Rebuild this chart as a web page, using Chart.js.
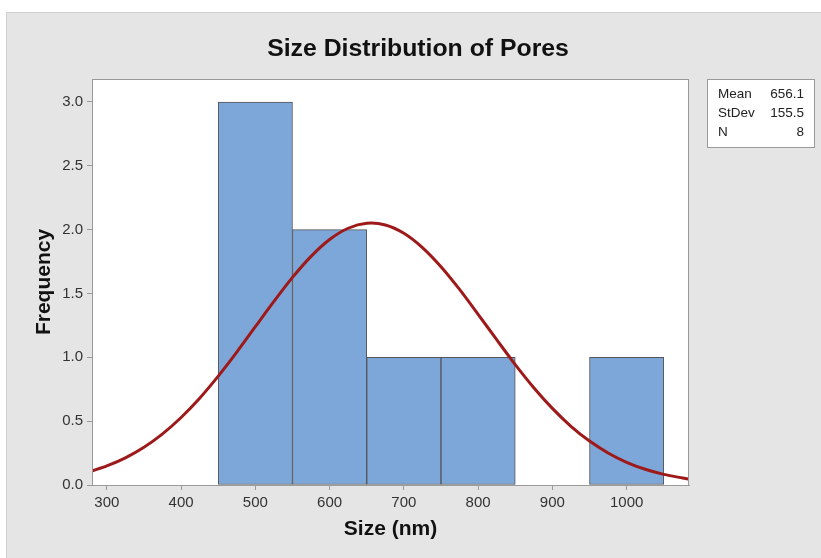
<!DOCTYPE html>
<html>
<head>
<meta charset="utf-8">
<script src="https://cdn.jsdelivr.net/npm/chart.js@4"></script>
<style>
  html, body { margin: 0; padding: 0; background: #fff; }
  #wrap { width: 821px; height: 558px; }
</style>
</head>
<body>
<div id="wrap"><canvas id="chart" width="821" height="558"></canvas></div>
<script>
const chartTitle = 'Size Distribution of Pores'
const xTitle = 'Size (nm)'
const yTitle = 'Frequency'

// histogram bins (centres) and counts
const binCenters = [500, 600, 700, 800, 900, 1000]
const binCounts = [3, 2, 1, 1, 0, 1]

// fitted normal curve
const curveX = [280, 300, 325, 350, 375, 400, 425, 450, 475, 500, 525, 550, 575, 600, 625, 650,
    675, 700, 725, 750, 775, 800, 825, 850, 875, 900, 925, 950, 975, 1000, 1025, 1050, 1075, 1084]
const curveY = [0.11, 0.149, 0.213, 0.296, 0.401, 0.529, 0.68, 0.853, 1.041, 1.24, 1.438, 1.626, 1.791, 1.923, 2.011, 2.05,
    2.037, 1.972, 1.86, 1.71, 1.532, 1.337, 1.138, 0.943, 0.762, 0.6, 0.46, 0.344, 0.251, 0.178, 0.123, 0.083, 0.055, 0.047]

const xTicks = [300, 400, 500, 600, 700, 800, 900, 1000]
const yTicks = [0, 0.5, 1, 1.5, 2, 2.5, 3]

const statLabels = ['Mean', 'StDev', 'N']
const statValues = ['656.1', '155.5', '8']

const fontFamily = '"Liberation Sans", Arial, Helvetica, sans-serif'
const panelColor = '#e5e5e5'
const axisColor = '#9a9a9a'
const tickColor = '#333'

const decorations = {
    id: 'decorations',
    beforeDraw(chart) {
        const { ctx, chartArea: a } = chart
        ctx.save()
        ctx.fillStyle = '#fff'
        ctx.fillRect(0, 0, chart.width, chart.height)
        ctx.fillStyle = panelColor
        ctx.fillRect(6, 12, chart.width - 6, chart.height - 12)
        ctx.strokeStyle = '#cfcfcf'
        ctx.lineWidth = 1
        ctx.beginPath()
        ctx.moveTo(6.5, chart.height)
        ctx.lineTo(6.5, 12.5)
        ctx.lineTo(chart.width, 12.5)
        ctx.stroke()
        ctx.fillStyle = '#fff'
        ctx.fillRect(a.left, a.top, a.right - a.left, a.bottom - a.top)
        ctx.restore()
    },
    afterDraw(chart) {
        const { ctx, chartArea: a } = chart
        ctx.save()
        ctx.strokeStyle = axisColor
        ctx.lineWidth = 1
        ctx.strokeRect(a.left + 0.5, a.top + 0.5, a.right - a.left - 1, a.bottom - a.top)

        ctx.fillStyle = '#111'
        ctx.font = 'bold 24.8px ' + fontFamily
        ctx.textAlign = 'center'
        ctx.textBaseline = 'middle'
        ctx.fillText(chartTitle, 418, 49)

        // stats box
        ctx.fillStyle = '#fff'
        ctx.fillRect(708, 80, 106, 67)
        ctx.strokeStyle = axisColor
        ctx.strokeRect(707.5, 79.5, 107, 68)
        ctx.fillStyle = '#222'
        ctx.font = '13.5px ' + fontFamily
        statLabels.forEach((label, i) => {
            const y = 94.5 + i * 19
            ctx.textAlign = 'left'
            ctx.fillText(label, 718, y)
            ctx.textAlign = 'right'
            ctx.fillText(statValues[i], 804, y)
        })
        ctx.restore()
    }
}

new Chart(document.getElementById('chart'), {
    data: {
        datasets: [
            {
                type: 'line',
                data: curveX.map((x, i) => ({ x, y: curveY[i] })),
                borderColor: '#9e1a1a',
                borderWidth: 3,
                pointRadius: 0,
                tension: 0.3,
                order: 0
            },
            {
                type: 'bar',
                data: binCenters.map((x, i) => ({ x, y: binCounts[i] })),
                backgroundColor: '#7ca7d8',
                borderColor: '#555',
                borderWidth: 1,
                borderSkipped: false,
                barPercentage: 1,
                categoryPercentage: 1,
                order: 1
            }
        ]
    },
    options: {
        responsive: false,
        animation: false,
        layout: {
            padding: { top: 79, right: 132, bottom: 0, left: 0 }
        },
        plugins: {
            legend: { display: false },
            title: { display: false },
            tooltip: { enabled: false }
        },
        scales: {
            x: {
                type: 'linear',
                min: 280,
                max: 1084,
                offset: false,
                afterBuildTicks: (scale) => {
                    scale.ticks = xTicks.map(value => ({ value }))
                },
                afterFit: (scale) => { scale.height = 73 },
                grid: {
                    offset: false,
                    drawOnChartArea: false,
                    tickLength: 5,
                    color: axisColor
                },
                border: { color: axisColor },
                ticks: {
                    color: tickColor,
                    padding: 4,
                    maxRotation: 0,
                    callback: (v) => String(v),
                    font: { family: fontFamily, size: 15 }
                },
                title: {
                    display: true,
                    text: xTitle,
                    color: '#111',
                    padding: { top: 0, bottom: 16 },
                    font: { family: fontFamily, size: 21, weight: 'bold' }
                }
            },
            y: {
                min: 0,
                max: 3.18,
                afterBuildTicks: (scale) => {
                    scale.ticks = yTicks.map(value => ({ value }))
                },
                afterFit: (scale) => { scale.width = 92 },
                grid: {
                    drawOnChartArea: false,
                    tickLength: 5,
                    color: axisColor
                },
                border: { color: axisColor },
                ticks: {
                    color: tickColor,
                    padding: 4,
                    callback: (v) => v.toFixed(1),
                    font: { family: fontFamily, size: 15 }
                },
                title: {
                    display: true,
                    text: yTitle,
                    color: '#111',
                    padding: { top: 32, bottom: 0 },
                    font: { family: fontFamily, size: 21, weight: 'bold' }
                }
            }
        }
    },
    plugins: [decorations]
})
</script>
</body>
</html>
